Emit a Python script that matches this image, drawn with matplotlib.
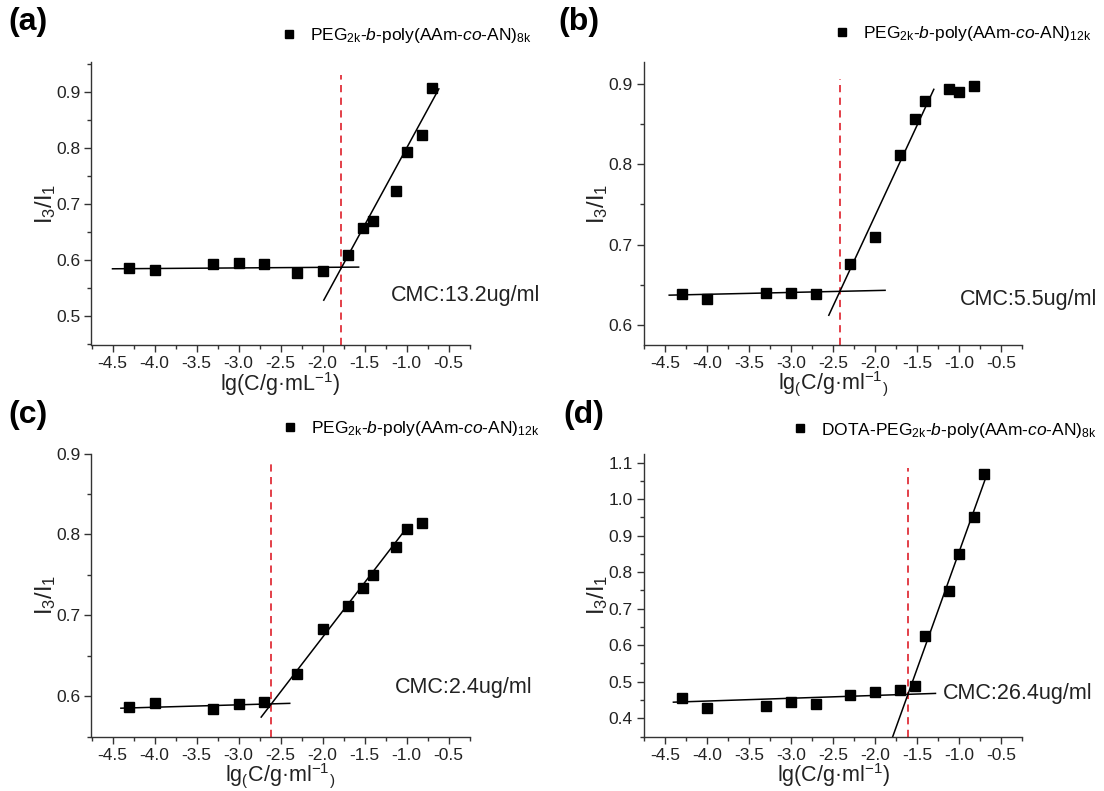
import numpy as np
import matplotlib.pyplot as plt
from matplotlib.ticker import MultipleLocator, FormatStrFormatter

plt.rcParams.update({
    "font.family": ["Liberation Sans", "DejaVu Sans"],
    "mathtext.fontset": "custom",
    "mathtext.rm": "Liberation Sans",
    "mathtext.it": "Liberation Sans:italic",
    "mathtext.bf": "Liberation Sans:bold",
    "axes.unicode_minus": False,
})

# lg(C) values and I3/I1 ratios
xa = [-4.3, -4.0, -3.3, -3.0, -2.7, -2.3, -2.0, -1.7, -1.52, -1.4, -1.12, -1.0, -0.82, -0.7]
ya = [0.586, 0.582, 0.592, 0.594, 0.593, 0.576, 0.580, 0.609, 0.656, 0.669, 0.722, 0.793, 0.822, 0.907]

xb = [-4.3, -4.0, -3.3, -3.0, -2.7, -2.3, -2.0, -1.7, -1.52, -1.4, -1.12, -1.0, -0.82]
yb = [0.639, 0.632, 0.640, 0.640, 0.639, 0.676, 0.709, 0.811, 0.856, 0.878, 0.894, 0.890, 0.897]

xc = [-4.3, -4.0, -3.3, -3.0, -2.7, -2.3, -2.0, -1.7, -1.52, -1.4, -1.12, -1.0, -0.82]
yc = [0.586, 0.592, 0.584, 0.590, 0.593, 0.627, 0.683, 0.711, 0.734, 0.750, 0.784, 0.807, 0.814]

xd = [-4.3, -4.0, -3.3, -3.0, -2.7, -2.3, -2.0, -1.7, -1.52, -1.4, -1.12, -1.0, -0.82, -0.7]
yd = [0.455, 0.429, 0.433, 0.445, 0.438, 0.463, 0.473, 0.477, 0.489, 0.624, 0.748, 0.849, 0.951, 1.070]

# fitted lines (end points) : flat part and steep part
flat_a = ([-4.5, -1.57], [0.584, 0.587])
steep_a = ([-1.985, -0.615], [0.528, 0.905])
flat_b = ([-4.45, -1.88], [0.637, 0.643])
steep_b = ([-2.55, -1.30], [0.612, 0.893])
flat_c = ([-4.40, -2.39], [0.585, 0.591])
steep_c = ([-2.73, -1.02], [0.574, 0.805])
flat_d = ([-4.40, -1.28], [0.444, 0.468])
steep_d = ([-1.79, -0.67], [0.349, 1.066])

# CMC position (x) and top of the dashed marker
cmc_x = [-1.78, -2.42, -2.61, -1.61]
cmc_top = [0.929, 0.906, 0.889, 1.085]
cmc_text = ["CMC:13.2ug/ml", "CMC:5.5ug/ml", "CMC:2.4ug/ml", "CMC:26.4ug/ml"]

legends = [
    r"PEG$_{\mathrm{2k}}$-$\mathit{b}$-poly(AAm-$\mathit{co}$-AN)$_{\mathrm{8k}}$",
    r"PEG$_{\mathrm{2k}}$-$\mathit{b}$-poly(AAm-$\mathit{co}$-AN)$_{\mathrm{12k}}$",
    r"PEG$_{\mathrm{2k}}$-$\mathit{b}$-poly(AAm-$\mathit{co}$-AN)$_{\mathrm{12k}}$",
    r"DOTA-PEG$_{\mathrm{2k}}$-$\mathit{b}$-poly(AAm-$\mathit{co}$-AN)$_{\mathrm{8k}}$",
]
xlabels = [
    r"lg(C/g·mL$^{-1}$)",
    r"lg$_{(}$C/g·ml$^{-1}$$_{)}$",
    r"lg$_{(}$C/g·ml$^{-1}$$_{)}$",
    r"lg(C/g·ml$^{-1}$)",
]
panel_tags = ["(a)", "(b)", "(c)", "(d)"]

W, H = 1104, 791


def px(l, t, r, b):
    return [l / W, 1 - b / H, (r - l) / W, (b - t) / H]


rects = [px(91.5, 62, 469.5, 345), px(644, 62, 1022, 345),
         px(91.5, 453.5, 469.5, 736.5), px(644, 453.5, 1022, 736.5)]
ylims = [(0.448, 0.953), (0.575, 0.927), (0.55, 0.90), (0.35, 1.125)]
leg_pos = [(0.504, 1.092), (0.505, 1.099), (0.507, 1.087), (0.394, 1.083)]
cmc_pos = [(391, 295), (960, 300), (395, 688), (943, 693)]
tag_pos = [(8, 22), (558, 22), (8, 415), (563, 415)]

data = [(xa, ya), (xb, yb), (xc, yc), (xd, yd)]
fits = [(flat_a, steep_a), (flat_b, steep_b), (flat_c, steep_c), (flat_d, steep_d)]

fig = plt.figure(figsize=(11.04, 7.91), dpi=100)

for i in range(4):
    ax = fig.add_axes(rects[i])
    x, y = data[i]
    ax.plot(x, y, 's', color='k', ms=7, label=legends[i], zorder=3)
    for seg in fits[i]:
        ax.plot(seg[0], seg[1], '-', color='k', lw=1.1, zorder=2)
    ylo, yhi = ylims[i]
    ax.plot([cmc_x[i], cmc_x[i]], [ylo, cmc_top[i]], '--', color='#e0303a',
            lw=1.3, dashes=(4, 3), zorder=1)

    ax.set_xlim(-4.75, -0.25)
    ax.set_ylim(ylo, yhi)
    ax.xaxis.set_major_locator(MultipleLocator(0.5))
    ax.xaxis.set_minor_locator(MultipleLocator(0.25))
    ax.yaxis.set_major_locator(MultipleLocator(0.1))
    ax.yaxis.set_minor_locator(MultipleLocator(0.05))
    ax.xaxis.set_major_formatter(FormatStrFormatter('%.1f'))
    ax.yaxis.set_major_formatter(FormatStrFormatter('%.1f'))

    for s in ['top', 'right']:
        ax.spines[s].set_visible(False)
    for s in ['left', 'bottom']:
        ax.spines[s].set_color('#333333')
        ax.spines[s].set_linewidth(1.0)
    ax.tick_params(which='major', direction='out', length=5, width=1,
                   color='#333333', labelsize=12.5, labelcolor='#222222', pad=3)
    ax.tick_params(which='minor', direction='out', length=3, width=1, color='#333333')

    ax.set_xlabel(xlabels[i], fontsize=15.5, color='#222222')
    ax.xaxis.set_label_coords(0.5, -39 / 283)
    ax.xaxis.label.set_verticalalignment('center')
    ax.set_ylabel(r"I$_3$/I$_1$", fontsize=17, color='#222222')
    ax.yaxis.set_label_coords(-46 / 378, 0.5)
    ax.yaxis.label.set_verticalalignment('center')

    ax.legend(loc='center left', bbox_to_anchor=leg_pos[i], frameon=False,
              fontsize=12.5, borderpad=0, borderaxespad=0, handlelength=0.8,
              handletextpad=0.8, markerscale=0.9)

    cx, cy = cmc_pos[i]
    fig.text(cx / W, 1 - cy / H, cmc_text[i], fontsize=15.5, color='#222222',
             ha='left', va='center')
    tx, ty = tag_pos[i]
    fig.text(tx / W, 1 - ty / H, panel_tags[i], fontsize=23, fontweight='bold',
             ha='left', va='center')

fig.savefig('out.png', dpi=100)
